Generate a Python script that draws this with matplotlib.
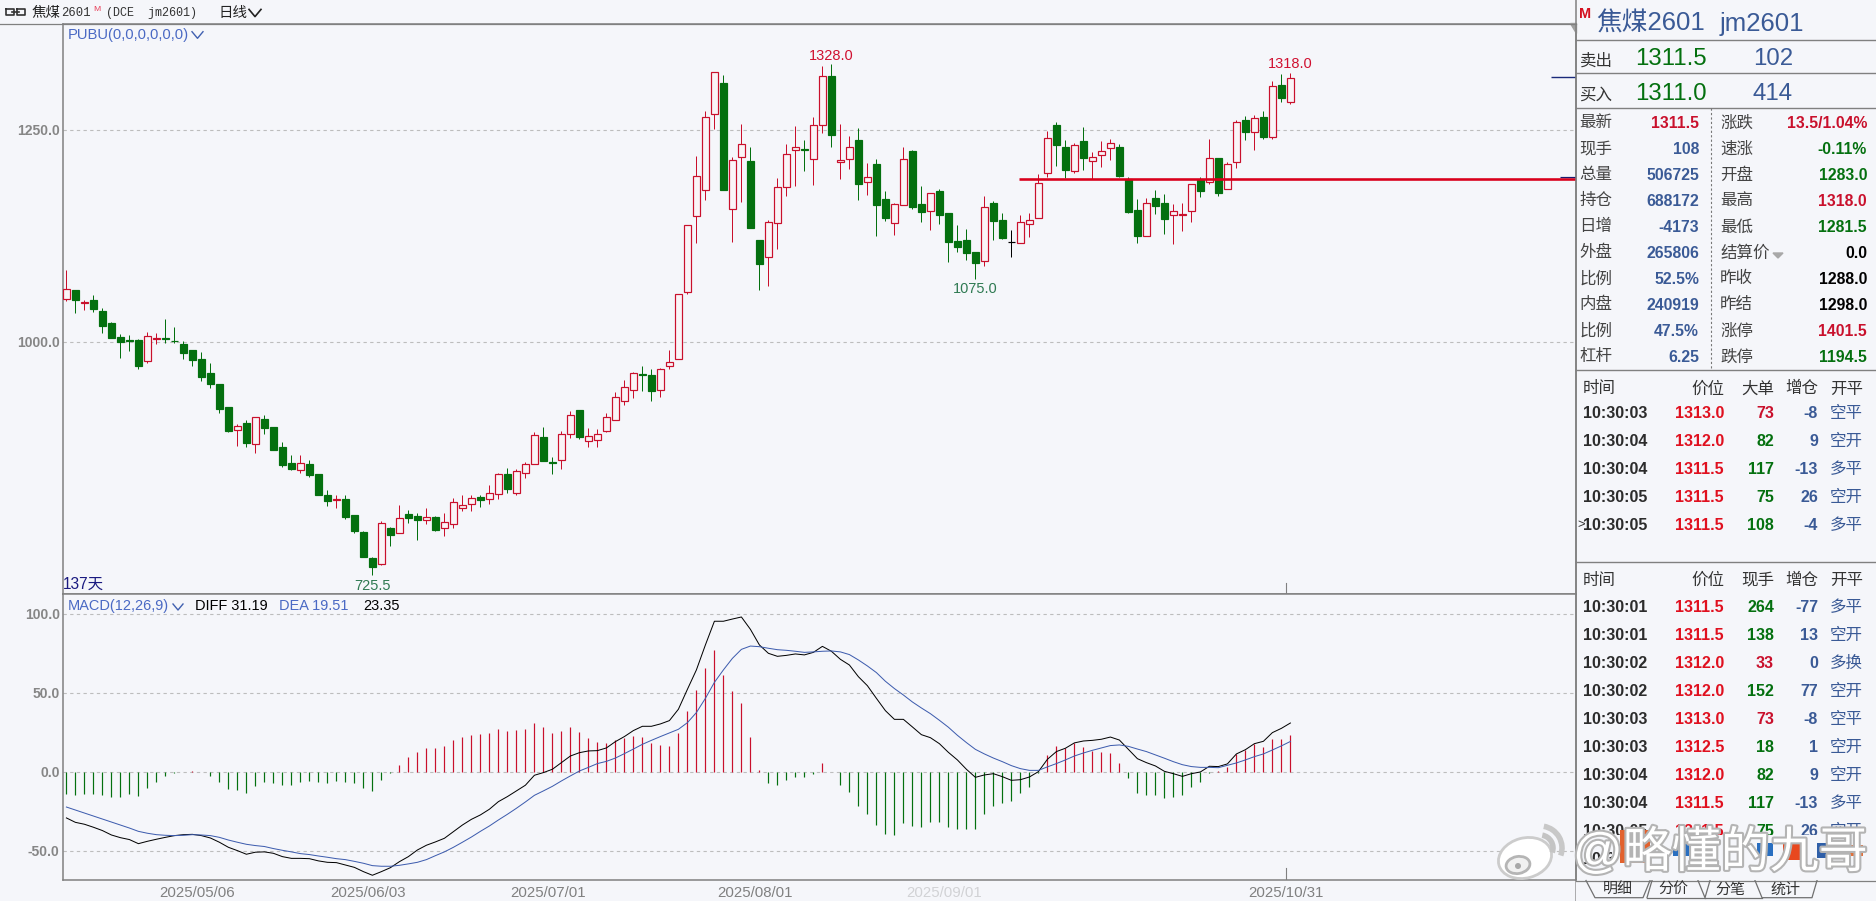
# jm2601 daily candles + MACD + quote panel
import matplotlib
matplotlib.use("Agg")
import matplotlib.pyplot as plt
import matplotlib.patheffects as pe
from matplotlib.patches import Ellipse, Arc, Polygon, Rectangle
from matplotlib.transforms import ScaledTranslation

CJK = ["Noto Sans CJK SC", "DejaVu Sans"]
SANS = ["Liberation Sans", "DejaVu Sans"]
MONO = ["Liberation Mono", "DejaVu Sans Mono"]

BG = "#f5f6fa"
RED = "#c9102c"
GREEN = "#04700f"
BLUE = "#3a5a96"
LINK = "#4a69c4"
AXC = "#808080"
GRIDC = "#bdbdbd"

# daily bars
opens = [1051.5, 1061.7, 1046, 1050, 1037, 1022.8, 1006.3, 1003, 1002.8, 978.4,
         1003.5, 1005.5, 1002, 998, 991, 980.4, 963.9, 950.5, 923.8, 897,
         904.9, 880.5, 909.6, 900.2, 876.6, 857.7, 849.9, 856.6, 844.8, 820,
         814.5, 815.3, 796.8, 776.4, 746, 739, 781, 774.8, 797.6, 795.3,
         791, 794, 780.7, 786.2, 805, 809, 818, 815, 820.8, 844.4,
         822.8, 845.6, 856.2, 888, 859, 860.9, 891.5, 920.2, 883.3, 885.2,
         895.8, 908.8, 930.4, 943.4, 963, 961.5, 943.4, 971.7, 979.9, 1059.7,
         1148.6, 1180, 1269.6, 1305.8, 1157.6, 1218, 1213.8, 1120.7, 1100, 1140.4,
         1182.8, 1226.4, 1228, 1215.8, 1255.9, 1313.7, 1213, 1215.8, 1238.6, 1189.5,
         1210.3, 1169, 1141, 1162.4, 1225.6, 1163, 1155.3, 1178.5, 1152.5, 1119,
         1120.3, 1106.5, 1095.5, 1164, 1143.9, 1118, 1117.6, 1140, 1147, 1200,
         1256, 1230, 1202.4, 1237.4, 1214, 1221.3, 1229.6, 1230.3, 1192.6, 1156,
         1125.8, 1170.2, 1164.3, 1150.6, 1150, 1155.3, 1191.4, 1189.5, 1217.4, 1180.4,
         1212.3, 1262, 1248.4, 1265.7, 1242.5, 1303.4, 1283]
closes = [1062.5, 1050, 1047.5, 1039.7, 1019.7, 1005.5, 1000.4, 1002, 972.5, 1007,
          1005, 1004, 1001, 987.8, 979.6, 959.5, 951.3, 921.8, 895.5, 901,
          881.7, 911.6, 899.4, 873.5, 855.4, 850.3, 857.4, 843.6, 820.4, 813.3,
          815.5, 794, 778, 747.3, 735.5, 786.6, 772.9, 792.5, 793.3, 791,
          793.7, 778.8, 788.6, 811.4, 807.8, 816, 814.5, 822, 844.8, 827.5,
          848, 856.6, 890.4, 860.5, 858, 891.5, 914.3, 888.8, 889.2, 891.5,
          911.6, 935.1, 946.9, 963.4, 962, 943, 968.2, 976.4, 1056.6, 1138,
          1195.8, 1265.3, 1318.4, 1180, 1214.6, 1233.5, 1135, 1092.8, 1141.5, 1182.8,
          1221.7, 1230, 1227, 1255.9, 1313.7, 1244.5, 1214.5, 1230, 1187, 1194.6,
          1162.4, 1147, 1163, 1215.8, 1160, 1153.7, 1175.7, 1150.6, 1118.7, 1112.8,
          1105.8, 1094, 1159.2, 1143.5, 1123, 1118, 1141.5, 1144.7, 1187.5, 1240.6,
          1232.7, 1203.6, 1232.7, 1217.8, 1218, 1225.2, 1234.7, 1196, 1153.7, 1125.8,
          1164, 1161, 1145.5, 1154.9, 1151.5, 1186.3, 1178.9, 1217, 1176.5, 1210,
          1259.4, 1248.4, 1264, 1242.5, 1301.9, 1288.5, 1311.5]
highs = [1085, 1061.7, 1050, 1055.8, 1040, 1023.6, 1009.8, 1008.7, 1003.5, 1012.6,
         1010.6, 1027, 1017.7, 1001, 991, 988, 975, 950.5, 923.8, 903.7,
         908, 911.6, 914.3, 900.2, 882, 867, 867, 861, 844.8, 825.9,
         820, 820, 796.8, 777, 747, 789, 782, 807.8, 802.3, 799,
         804.3, 794.9, 798.4, 816, 820, 820, 820, 831.4, 845.6, 851.5,
         850.7, 859.3, 894, 900, 864.4, 895, 919, 920.2, 898.6, 897.8,
         916.3, 941, 955.2, 965.4, 972, 968, 969.3, 991, 1056.6, 1138,
         1219.7, 1272.8, 1318.4, 1315, 1219, 1257.5, 1230.3, 1120.7, 1144, 1193.4,
         1234, 1254.7, 1238.6, 1265.3, 1325.8, 1328, 1257, 1243.3, 1252.3, 1211,
         1215.8, 1178.5, 1164, 1230.3, 1226.8, 1184.8, 1175.7, 1180.8, 1152.5, 1138,
         1133.3, 1106.5, 1172.6, 1166.3, 1152.5, 1132.5, 1150, 1152.5, 1198, 1249.6,
         1259.8, 1238.6, 1234.7, 1254, 1224, 1237, 1239.8, 1234, 1195.4, 1169,
         1170, 1179.6, 1175, 1163, 1164.7, 1186.3, 1194.6, 1239.8, 1217.4, 1213,
         1261.8, 1267, 1267.7, 1272.8, 1307.8, 1316.4, 1318]
lows = [1049, 1035, 1038, 1036, 1011.4, 1004.7, 982, 990.2, 969, 976,
        997.6, 999.6, 998.8, 980.7, 972.5, 954.8, 946.6, 917, 894.3, 878.2,
        877, 869.5, 892.3, 873, 853, 849.5, 846.3, 841.6, 820, 807,
        804.7, 792, 775.6, 747.3, 725.5, 737.5, 760, 774.8, 787.4, 767.4,
        786.2, 778, 772, 781.5, 801.5, 801.5, 806, 809.8, 815.7, 822.8,
        820, 840.4, 856.2, 860.5, 844.3, 850.6, 886.8, 886.4, 877, 877,
        893.9, 908.8, 926.5, 934.4, 943, 930.8, 935.5, 968.9, 979.9, 1057,
        1117.6, 1168.3, 1251.6, 1180, 1118.3, 1165.5, 1135, 1062, 1066.5, 1110,
        1173, 1184.8, 1202, 1186, 1247.2, 1230.7, 1192.6, 1204.4, 1168.3, 1173.8,
        1125.4, 1143, 1126.6, 1162.4, 1157.6, 1142, 1132.5, 1139.6, 1095, 1107,
        1097, 1075, 1090.4, 1120.7, 1122, 1100.7, 1117.6, 1124.2, 1147, 1195.4,
        1208, 1193.4, 1200, 1203, 1192.6, 1207, 1215, 1195.4, 1153, 1117.6,
        1125.8, 1151.4, 1127.8, 1116, 1131.7, 1142.3, 1171.8, 1187, 1173, 1180.4,
        1206, 1238.6, 1226.8, 1239.4, 1239.4, 1283, 1281.5]

# MACD
diff = [-28.9, -31.7, -32.9, -34.8, -36.9, -39.7, -41.4, -42.6, -45.2, -43.7,
        -42.4, -41.2, -40.1, -39.5, -39.3, -40.1, -41.6, -44.3, -47.5, -49.6,
        -51.9, -50.6, -50.4, -51.3, -53.4, -54.5, -54.5, -54.7, -56.1, -57,
        -57.2, -58.7, -60.2, -62.9, -65.2, -62.9, -60.4, -56.6, -53.4, -49.2,
        -46.2, -44.1, -41.8, -37.6, -33.4, -29.8, -27, -23.4, -18.6, -15.4,
        -11.8, -8.2, -1.9, -0.2, 1.9, 6.1, 10.3, 12.4, 13.5, 13.7,
        15.4, 19.4, 22.6, 26.4, 29.1, 29.1, 30.6, 32.7, 39.9, 52.5,
        64.8, 80.6, 95.6, 95.6, 97, 98.3, 90.5, 80.6, 75.3, 73.4,
        74, 74.9, 74.3, 75.9, 79.7, 76.6, 71.5, 67.9, 60.5, 54.8,
        46.8, 39, 33.5, 33.5, 28.7, 23.8, 21.9, 18.1, 12.6, 7.8,
        1.9, -3.2, -1.7, -0.9, -2.8, -5.1, -4.7, -3, 0.4, 8.2,
        13.1, 15.2, 18.6, 19.8, 20.2, 20.9, 22.3, 20.4, 14.5, 8.6,
        6.1, 4, 0.6, -0.9, -2.6, -0.9, 0.2, 3.8, 3.6, 5.3,
        11.6, 14.3, 18.1, 19.6, 25.1, 27.8, 31.19]
dea = [-22, -23.9, -25.8, -27.7, -29.6, -31.5, -33.4, -35.3, -37.4, -38.6,
       -39.5, -39.9, -40.1, -39.9, -39.5, -39.7, -40.1, -41.2, -42.9, -44.3,
       -45.6, -46.4, -47, -48.3, -49.4, -50.4, -51.5, -52.1, -53, -53.8,
       -54.7, -55.3, -56.4, -57.6, -59.1, -59.5, -59.5, -58.9, -58, -57,
       -55.3, -52.8, -50.4, -47.5, -44.3, -41, -37.4, -34, -30.2, -26.6,
       -22.8, -18.8, -14.6, -11.8, -8.9, -5.5, -2.3, 0.8, 3.1, 5.5,
       6.9, 9, 11.8, 14.7, 17.7, 20.2, 22.6, 24.9, 27.2, 31.4,
       37.8, 46.8, 56.9, 64.8, 72.1, 77.8, 79.9, 79.5, 78.5, 77.6,
       77.2, 76.6, 75.9, 76.2, 76.6, 76.8, 76.2, 74.5, 71.1, 67.3,
       63.1, 57.6, 53, 48.9, 44.5, 40.7, 37.1, 32.9, 28.5, 23.4,
       18.8, 14.5, 11.6, 9, 6.7, 4.2, 2.3, 1.2, 1.2, 3.4,
       5.5, 7.8, 10.3, 12.2, 13.9, 15.4, 16.9, 17.3, 16.4, 14.7,
       13.1, 11, 8.9, 6.7, 4.8, 3.6, 3.1, 3.1, 2.9, 4.4,
       5.9, 7.8, 9.9, 11.6, 14.1, 16.7, 19.51]
hist = [-13.7, -14.3, -13.9, -13.7, -14.3, -15.4, -15.4, -13.7, -14.8, -9.9,
        -6.3, -2.1, -0.2, -0.1, 0.8, 0.2, -2.3, -6, -10.8, -11.2,
        -12.9, -8.7, -6.1, -6.5, -8, -8, -6.3, -5.7, -6.3, -6.5,
        -5.4, -6.1, -6.8, -9.9, -11.6, -4.9, -0.6, 4.6, 9.7, 12.7,
        15.2, 15.4, 16.7, 20.5, 22.4, 23.6, 24.3, 24.7, 27.4, 26.2,
        27, 27.4, 31.2, 28.7, 24.9, 26.2, 28.7, 25.3, 21.7, 19,
        18.6, 20.5, 21.9, 23, 22.4, 18.6, 17.3, 16.7, 24.9, 39,
        52.1, 66, 77.4, 61.6, 51.5, 43.9, 22.4, 1.5, -6.5, -8,
        -4.9, -3, -2.7, -1, 6.1, 0.2, -8, -12.2, -21.3, -26.4,
        -33.3, -39, -39.7, -31.9, -34, -34.4, -31.4, -31.2, -34.6, -35.7,
        -35.9, -35.9, -26.2, -21.3, -19.2, -17.9, -12.9, -9.1, -0.6, 10.8,
        16.7, 15.4, 18.4, 16, 13.5, 12.9, 12.2, 6.1, -3.6, -12.9,
        -14.1, -14.3, -16, -15.4, -14.1, -9.1, -6.1, -0.4, 0.5, 3.4,
        11.6, 14.3, 18.1, 16, 21.1, 21.1, 23.35]

price_ticks = [1250, 1000]
macd_ticks = [100, 50, 0, -50]
date_ticks = [14.5, 33.5, 53.5, 76.5, 97.5, 135.5]
date_labels = ["2025/05/06", "2025/06/03", "2025/07/01", "2025/08/01", "2025/09/01", "2025/10/31"]

support_price = 1192.5
order_price = 1312.5

# quote table
left_names = ["最新", "现手", "总量", "持仓", "日增", "外盘", "比例", "内盘", "比例", "杠杆"]
left_vals = ["1311.5", "108", "506725", "688172", "-4173", "265806", "52.5%", "240919", "47.5%", "6.25"]
right_names = ["涨跌", "速涨", "开盘", "最高", "最低", "结算价", "昨收", "昨结", "涨停", "跌停"]
right_vals = ["13.5/1.04%", "-0.11%", "1283.0", "1318.0", "1281.5", "0.0", "1288.0", "1298.0", "1401.5", "1194.5"]
right_cols = [RED, GREEN, GREEN, RED, GREEN, "black", "black", "black", RED, GREEN]

big_times = ["10:30:03", "10:30:04", "10:30:04", "10:30:05", "10:30:05"]
big_prices = ["1313.0", "1312.0", "1311.5", "1311.5", "1311.5"]
big_sizes = ["73", "82", "117", "75", "108"]
big_size_cols = [RED, GREEN, GREEN, GREEN, GREEN]
big_oi = ["-8", "9", "-13", "26", "-4"]
big_kinds = ["空平", "空开", "多平", "空开", "多平"]

tick_times = ["10:30:01", "10:30:01", "10:30:02", "10:30:02", "10:30:03", "10:30:03", "10:30:04", "10:30:04", "10:30:05"]
tick_prices = ["1311.5", "1311.5", "1312.0", "1312.0", "1313.0", "1312.5", "1312.0", "1311.5", "1311.5"]
tick_sizes = ["264", "138", "33", "152", "73", "18", "82", "117", "75"]
tick_size_cols = [GREEN, GREEN, RED, GREEN, RED, GREEN, GREEN, GREEN, GREEN]
tick_oi = ["-77", "13", "0", "77", "-8", "1", "9", "-13", "26"]
tick_kinds = ["多平", "空开", "多换", "空开", "空平", "空开", "空开", "多平", "空开"]

tab_names = ["明细", "分价", "分笔", "统计"]


def pt(n):
    # pixel size to points at dpi 100
    return n * 0.72


W, H = 1876, 901
fig = plt.figure(figsize=(W / 100, H / 100), dpi=100, facecolor=BG)
up_1px = ScaledTranslation(0, 1 / 100, fig.dpi_scale_trans)


def panel(x0, y0, x1, y1):
    a = fig.add_axes([x0 / W, 1 - y1 / H, (x1 - x0) / W, (y1 - y0) / H], facecolor=BG)
    a.set_xlim((x0 - 66.4) / 9, (x1 - 66.4) / 9)
    for s in ["top", "bottom", "left", "right"]:
        a.spines[s].set_color(AXC)
        a.spines[s].set_linewidth(1.1)
    return a


# main chart
ax = panel(62.5, 23.5, 1576, 594)
ax.set_ylim(703.2, 1375.9)
ax.set_yticks(price_ticks)
ax.set_yticklabels([f"{v:.1f}" for v in price_ticks], fontsize=pt(14), color="#868686",
                   fontweight="bold", family=SANS)
ax.tick_params(axis="y", length=0, pad=2)
ax.set_xticks([])
for v in price_ticks:
    ax.axhline(v, color=GRIDC, lw=0.8, ls=(0, (3, 3)), zorder=1)

n = len(closes)
for i in range(n):
    up = closes[i] > opens[i]
    flat = closes[i] == opens[i]
    c = "black" if flat else (RED if up else GREEN)
    ax.vlines(i, lows[i], highs[i], color=c, lw=pt(1.0), zorder=2)
    ax.bar(i, abs(closes[i] - opens[i]), bottom=min(opens[i], closes[i]), width=0.7,
           facecolor="#faf4f7" if up else c, edgecolor=c, lw=pt(1.2), zorder=3)

ax.hlines(support_price, 105.8, (1576 - 66.4) / 9, color="#d9001b", lw=pt(2.6), zorder=4)
ax.hlines(support_price + 2.5, 165.9, (1576 - 66.4) / 9, color="#1a1a6e", lw=pt(1.2), zorder=4)
ax.hlines(order_price, 165, (1576 - 66.4) / 9, color="#1a2a7a", lw=pt(1.4), zorder=4)
ax.axvline(135.5, ymin=0, ymax=11 / 570, color=AXC, lw=0.8)

for idx, val, col, off in [(85, 1328.0, "#d01030", 8), (136, 1318.0, "#d01030", 8.5),
                           (101, 1075.0, "#2f7a52", -10.5), (34, 725.5, "#2f7a52", -11)]:
    ax.annotate(f"{val:.1f}", xy=(idx, val), xytext=(0, pt(off)), textcoords="offset points",
                ha="center", va="center", color=col, fontsize=pt(14.5), family=SANS, zorder=5)

# MACD
ax2 = panel(62.5, 594.3, 1576, 880)
ax2.set_ylim(-68.2, 112.66)
ax2.set_yticks(macd_ticks)
ax2.set_yticklabels([f"{v:.1f}" for v in macd_ticks], fontsize=pt(14), color="#868686",
                    fontweight="bold", family=SANS)
ax2.tick_params(axis="y", length=0, pad=2)
for v in macd_ticks:
    ax2.axhline(v, color=GRIDC, lw=0.8, ls=(0, (3, 3)), zorder=1)
xs = list(range(n))
ax2.vlines(xs, 0, hist, colors=[RED if v > 0 else GREEN for v in hist], lw=pt(1.2), zorder=2)
ax2.plot(xs, diff, color="black", lw=pt(1.0), zorder=3)
ax2.plot(xs, dea, color="#3d5cae", lw=pt(1.0), zorder=4)
ax2.axvline(135.5, ymin=0, ymax=12 / 286, color=AXC, lw=0.8)
ax2.set_xticks(date_ticks)
ax2.set_xticklabels(date_labels, fontsize=pt(15), color="#808080", family=SANS)
ax2.tick_params(axis="x", length=0, pad=4)
ax2.get_xticklabels()[4].set_alpha(0.3)

for a in [ax, ax2]:
    for lab in a.get_yticklabels():
        lab.set_transform(lab.get_transform() + up_1px)

# everything else in pixel coordinates
ov = fig.add_axes([0, 0, 1, 1], facecolor="none", zorder=10)
ov.set_xlim(0, W)
ov.set_ylim(H, 0)
ov.axis("off")


def txt(x, y, s, size, col="black", fam=CJK, ha="left", weight="normal", **kw):
    return ov.text(x, y + 1, s, fontsize=pt(size), color=col, family=fam, ha=ha, va="center",
                   fontweight=weight, **kw)


def chevron(x, y, w, col, lw=1.2):
    ov.plot([x, x + w / 2, x + w], [y - w * 0.3, y + w * 0.3, y - w * 0.3], color=col, lw=lw)


# top bar
ov.plot([0, 1576], [23.5, 23.5], color=AXC, lw=0.9)
ov.plot([6, 14, 14, 6, 6], [9, 9, 15, 15, 9], color="#333333", lw=1.2)
ov.plot([17, 25, 25, 17, 17], [9, 9, 15, 15, 9], color="#333333", lw=1.2)
ov.plot([12, 19], [12, 12], color="#333333", lw=1.2)
txt(32, 11.5, "焦煤", 14.5, "#222222")
txt(61, 12, "2601", 12.3, "#333333", MONO)
txt(93, 8.5, "M", 8.5, "#e8405a", SANS)
txt(106, 12, "(DCE  jm2601)", 11.8, "#333333", MONO)
txt(218, 11.5, "日线", 14.5, "#222222")
chevron(249, 13, 12, "#222222")

txt(68, 34.5, "PUBU(0,0,0,0,0,0)", 14.8, LINK, SANS)
chevron(192, 35, 11, "#4060b0", 1)
txt(63, 583, "137天", 15.5, "#1a1a80", ["Liberation Sans", "Noto Sans CJK SC"])

txt(68, 605, "MACD(12,26,9)", 14.5, LINK, SANS)
chevron(173, 607, 10, "#4060b0", 1)
txt(195, 605, "DIFF 31.19", 14.5, "black", SANS)
txt(279, 605, "DEA 19.51", 14.5, LINK, SANS)
txt(363, 605, "23.35", 14.5, "black", SANS)

# quote panel
ov.plot([1576, 1576], [0, 901], color=AXC, lw=1.1)
ov.add_patch(Polygon([[1570, 23], [1576, 23], [1576, 33]], color="#a0a0a0"))
for y in [39.5, 73, 107.5, 370, 562.3]:
    ov.plot([1576, 1876], [y, y], color=AXC, lw=1)
ov.plot([1710.7, 1710.7], [108, 369], color="#777777", lw=0.8, ls=(0, (2, 2)))

txt(1579.5, 13.5, "M", 14.5, "#d4101f", SANS, weight="bold")
txt(1596, 22.5, "焦煤2601", 25.7, BLUE, ["Liberation Sans", "Noto Sans CJK SC"])
txt(1720, 22.5, "jm2601", 25.7, BLUE, SANS)
txt(1579.5, 60.5, "卖出", 16.5, "#333333")
txt(1635, 58, "1311.5", 24, GREEN, SANS)
txt(1793, 58, "102", 24, BLUE, SANS, ha="right")
txt(1579.5, 94.5, "买入", 16.5, "#333333")
txt(1635, 93, "1311.0", 24, GREEN, SANS)
txt(1793, 93, "414", 24, BLUE, SANS, ha="right")

for k in range(len(left_names)):
    y = 122 + 26 * k
    txt(1579.5, y, left_names[k], 16.5, "#444444")
    txt(1699, y, left_vals[k], 15.8, RED if k == 0 else BLUE, SANS, ha="right", weight="bold")
    txt(1720, y, right_names[k], 16.5, "#444444")
    txt(1867, y, right_vals[k], 15.8, right_cols[k], SANS, ha="right", weight="bold")
ov.add_patch(Polygon([[1773, 253], [1783, 253], [1778, 258]], color="#a8a8a8"))


def table(y_head, y_first, head, times, prices, sizes, size_cols, oi, kinds):
    txt(1583, y_head, "时间", 16.5, "#333333")
    for x, s in zip([1724, 1774, 1818, 1863], head):
        txt(x, y_head, s, 16.5, "#333333", ha="right")
    for k in range(len(times)):
        y = y_first + 28 * k
        txt(1583.5, y, times[k], 16, "#2c2c2c", SANS, weight="bold")
        txt(1724, y, prices[k], 16, "#e0101f", SANS, ha="right", weight="bold")
        txt(1774, y, sizes[k], 16, size_cols[k], SANS, ha="right", weight="bold")
        txt(1818, y, oi[k], 16, BLUE, SANS, ha="right", weight="bold")
        txt(1863, y, kinds[k], 16.5, BLUE, ha="right")


table(388, 412.3, ["价位", "大单", "增仓", "开平"], big_times, big_prices, big_sizes, big_size_cols, big_oi, big_kinds)
txt(1577.5, 524, ">", 13, "#333333", SANS)
table(579, 606.7, ["价位", "现手", "增仓", "开平"], tick_times, tick_prices, tick_sizes, tick_size_cols, tick_oi, tick_kinds)

# tabs
ov.fill_between([1576, 1876], 880.5, 901, color=BG, zorder=2)
ov.plot([1576, 1876], [880.5, 880.5], color=AXC, lw=0.9, zorder=3)
tab_lines = [[(1586, 880.5), (1595, 897.7), (1643, 897.7), (1650, 880.5)],
             [(1647, 897.7), (1652, 880.5)],
             [(1698, 880.5), (1705, 897.7), (1710, 880.5)],
             [(1755, 880.5), (1762, 897.7), (1812, 897.7), (1817, 880.5)],
             [(1647, 897.7), (1705, 897.7)],
             [(1705, 897.7), (1762, 897.7)]]
for line in tab_lines:
    ov.plot([p[0] for p in line], [p[1] for p in line], color="#707070", lw=0.9, zorder=3)
for x, s in zip([1617.7, 1673, 1730, 1785.7], tab_names):
    txt(x, 888.5, s, 15, "#333333", ha="center", zorder=3)

# watermark sits on a flat strip that hides the last row
ov.add_patch(Rectangle((1612, 835), 264, 45, fc=BG, ec="none", zorder=4))
txt(1583.5, 858, "10:30:05", 16, "#2c2c2c", SANS, weight="bold", zorder=3)
for x0, y0, w, h, c in [(1620, 830, 30, 33, "#e2622e"), (1673, 843, 37, 13, "#2a6fc0"),
                        (1757, 843, 16, 13, "#2a6fc0"), (1783, 843, 20, 17, "#e8481e"),
                        (1817, 843, 20, 15, "#2f5fa8"), (1843, 845, 20, 11, "#e0703a")]:
    ov.add_patch(Rectangle((x0, y0), w, h, fc=c, ec="none", zorder=5))
wm = txt(1573, 852, "@略懂的九哥", 49, "white", ["Liberation Sans", "Noto Sans CJK SC"], zorder=6)
wm.set_path_effects([pe.withStroke(linewidth=3, foreground="#b4b4b4")])
logo = Ellipse((1525, 858), 54, 40, angle=-15, fc="white", ec="#cccccc", lw=2, zorder=6)
ov.add_patch(logo)
ov.add_patch(Ellipse((1518, 865), 24, 17, angle=-10, fc="#f1f1f1", ec="#b5b5b5", lw=2, zorder=7))
ov.add_patch(Ellipse((1518, 866), 6, 6, fc="#a8a8a8", ec="none", zorder=8))
ov.add_patch(Arc((1540, 848), 26, 26, theta1=280, theta2=20, ec="#c4c4c4", lw=4, zorder=7))
ov.add_patch(Arc((1540, 848), 44, 44, theta1=280, theta2=20, ec="#c8c8c8", lw=4, zorder=7))

fig.savefig("out.png", dpi=100)
